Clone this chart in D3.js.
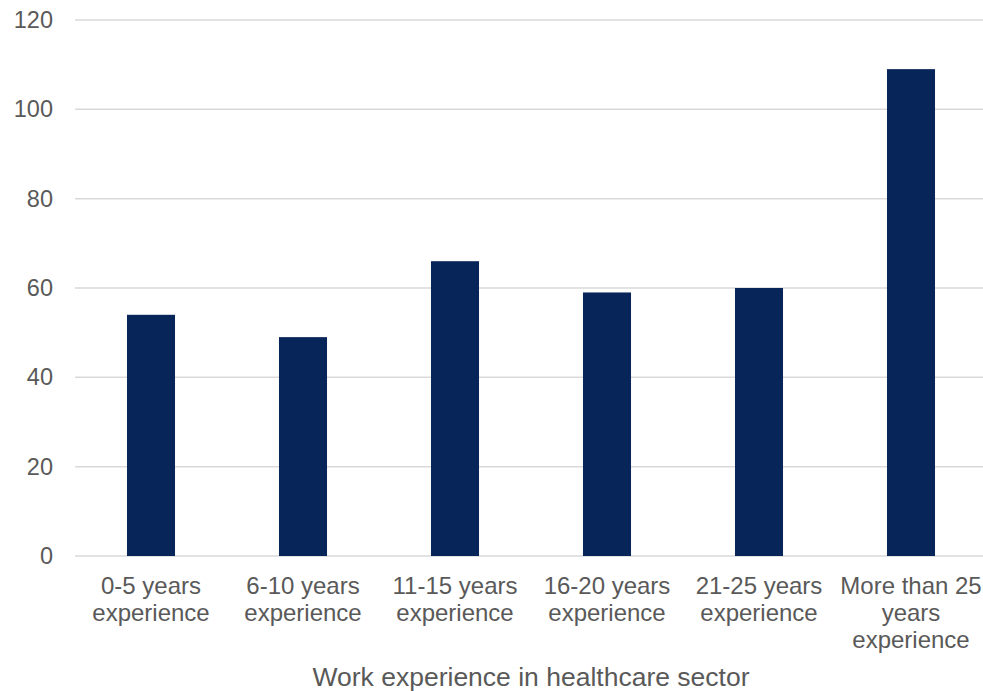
<!DOCTYPE html>
<html>
<head>
<meta charset="utf-8">
<script src="https://cdn.jsdelivr.net/npm/d3@7"></script>
<style>
  html, body { margin: 0; padding: 0; background: #fff; }
  svg { display: block; font-family: "Liberation Sans", Arial, sans-serif; }
</style>
</head>
<body>
<svg id="chart" width="983" height="691"></svg>
<script>
// Respondents by years of work experience in the healthcare sector
const categories = [
  "0-5 years|experience",
  "6-10 years|experience",
  "11-15 years|experience",
  "16-20 years|experience",
  "21-25 years|experience",
  "More than 25|years|experience"
];
const counts = [54, 49, 66, 59, 60, 109];
const yTicks = [0, 20, 40, 60, 80, 100, 120];
const xTitle = "Work experience in healthcare sector";

const svg = d3.select("#chart");
const margin = { left: 75, right: -4, top: 20, bottom: 135 };
const W = 983, H = 691;

const x = d3.scaleBand()
  .domain(categories)
  .range([margin.left, W - margin.right])
  .paddingInner(0.684)
  .paddingOuter(0.342);

const y = d3.scaleLinear()
  .domain([0, 120])
  .range([H - margin.bottom, margin.top]);

// Horizontal gridlines
svg.append("g")
  .selectAll("line")
  .data(yTicks)
  .join("line")
  .attr("x1", margin.left)
  .attr("x2", W - margin.right)
  .attr("y1", d => y(d))
  .attr("y2", d => y(d))
  .attr("stroke", "#d9d9d9")
  .attr("stroke-width", 1.5);

// Y axis labels
const yAxis = svg.append("g")
  .attr("transform", `translate(${margin.left},0)`)
  .call(d3.axisLeft(y).tickValues(yTicks).tickSize(0).tickPadding(22));
yAxis.select(".domain").remove();
yAxis.selectAll("text")
  .attr("fill", "#595959")
  .style("font-size", "23.5px")
  .style("font-family", "'Liberation Sans', Arial, sans-serif");

// Bars
svg.append("g")
  .selectAll("rect")
  .data(categories.map((c, i) => ({ c, v: counts[i] })))
  .join("rect")
  .attr("x", d => x(d.c))
  .attr("width", x.bandwidth())
  .attr("y", d => y(d.v))
  .attr("height", d => y(0) - y(d.v))
  .attr("fill", "#072559");

// Category labels (multi-line)
const xAxis = svg.append("g")
  .attr("transform", `translate(0,${y(0)})`)
  .call(d3.axisBottom(x).tickSize(0).tickFormat(""));
xAxis.select(".domain").remove();
xAxis.selectAll(".tick").each(function(d) {
  const t = d3.select(this).append("text")
    .attr("fill", "#595959")
    .attr("text-anchor", "middle")
    .style("font-size", "24px")
    .style("font-family", "'Liberation Sans', Arial, sans-serif");
  d.split("|").forEach((line, i) => {
    t.append("tspan").attr("x", 0).attr("y", 38 + i * 27).text(line);
  });
});

// X axis title
svg.append("text")
  .attr("x", (margin.left + W - margin.right) / 2)
  .attr("y", 686)
  .attr("text-anchor", "middle")
  .attr("fill", "#595959")
  .style("font-size", "26.5px")
  .text(xTitle);
</script>
</body>
</html>
